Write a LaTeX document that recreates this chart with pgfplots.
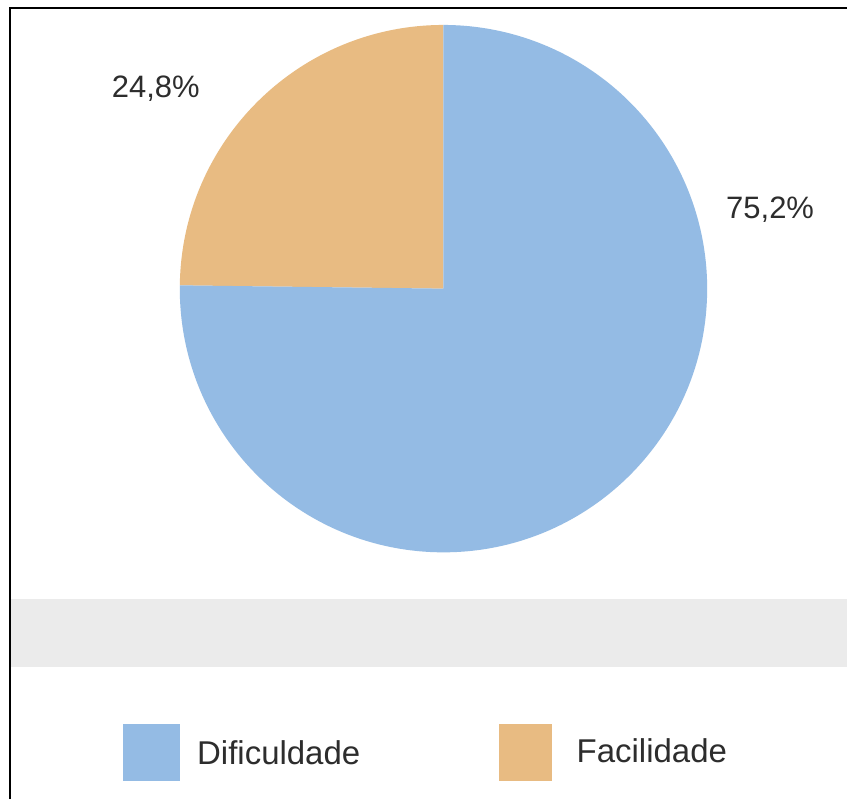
\documentclass[border=0pt]{standalone}
\usepackage{pgfplots}
\pgfplotsset{compat=1.18}
\usepackage{fontspec}
\setmainfont{Liberation Sans}
\definecolor{pieblue}{RGB}{148,187,228}
\definecolor{pieorange}{RGB}{232,187,130}
\definecolor{txt}{RGB}{45,45,45}
\definecolor{band}{RGB}{235,235,235}
% data (percent)
\def\Dificuldade{75.2}
\def\Facilidade{24.8}
\begin{document}
\begin{tikzpicture}[x=0.5pt,y=0.5pt]
\path[fill=white] (0,0) rectangle (848,800);
\fill[band] (10,132) rectangle (848,200);
\draw[line width=1pt] (10,0) -- (10,792) -- (848,792);
\pgfmathsetmacro{\angB}{90+\Facilidade*3.6}
\pgfmathsetmacro{\angC}{\angB+\Dificuldade*3.6}
\begin{axis}[at={(222pt,255.5pt)}, anchor=center, x=132pt, y=132pt,
  xmin=-1, xmax=1, ymin=-1, ymax=1, hide axis, clip=false]
\fill[pieorange] (axis cs:0,0) -- (axis cs:0,1) arc[start angle=90, end angle=\angB, radius=132pt] -- cycle;
\fill[pieblue] (axis cs:0,0) -- (axis cs:{cos(\angB)},{sin(\angB)}) arc[start angle=\angB, end angle=\angC, radius=132pt] -- cycle;
\end{axis}
\node[txt, font=\fontsize{15.5pt}{18pt}\selectfont] at (156,711) {24,8\%};
\node[txt, font=\fontsize{15.5pt}{18pt}\selectfont] at (771,590) {75,2\%};
\fill[pieblue] (123,18) rectangle (180,75);
\fill[pieorange] (500,18) rectangle (553,75);
\node[txt, anchor=base west, inner sep=0pt, font=\fontsize{16.5pt}{19pt}\selectfont] at (197,35) {Dificuldade};
\node[txt, anchor=base west, inner sep=0pt, font=\fontsize{16.5pt}{19pt}\selectfont] at (577,37) {Facilidade};
\end{tikzpicture}
\end{document}
